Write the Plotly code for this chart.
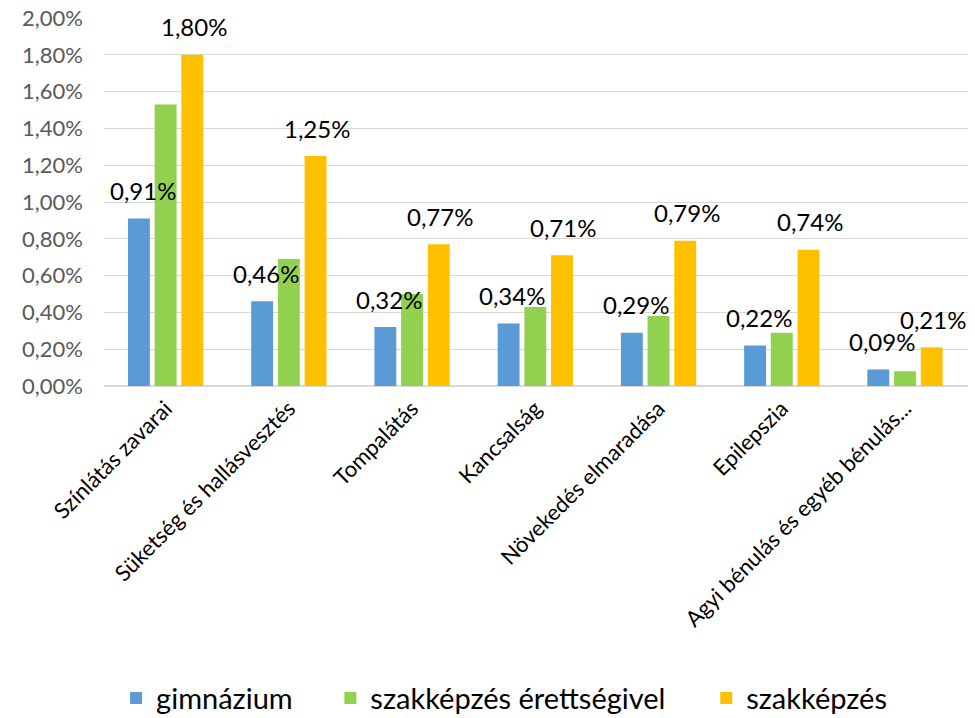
import plotly.graph_objects as go

categories = [
    "Színlátás zavarai",
    "Süketség és hallásvesztés",
    "Tompalátás",
    "Kancsalság",
    "Növekedés elmaradása",
    "Epilepszia",
    "Agyi bénulás és egyéb bénulás...",
]
series_names = ["gimnázium", "szakképzés érettségivel", "szakképzés"]
gimnazium = [0.0091, 0.0046, 0.0032, 0.0034, 0.0029, 0.0022, 0.0009]
szak_erettsegi = [0.0153, 0.0069, 0.0050, 0.0043, 0.0038, 0.0029, 0.0008]
szakkepzes = [0.0180, 0.0125, 0.0077, 0.0071, 0.0079, 0.0074, 0.0021]
colors = ["#5b9bd5", "#92d050", "#ffc000"]

font_family = "Lato, 'Open Sans', sans-serif"

# one legend per series so the entries can be spaced like the original
legend_ids = ["legend", "legend2", "legend3"]
legend_x = [0.014, 0.262, 0.697]

fig = go.Figure()
for name, vals, col, lg in zip(series_names, [gimnazium, szak_erettsegi, szakkepzes],
                               colors, legend_ids):
    fig.add_trace(go.Bar(x=categories, y=vals, name=name, marker_color=col,
                         marker_line_width=0, legend=lg, showlegend=True))

# data labels only for gimnázium and szakképzés, placed above the bars
annotations = []
for vals, shift in [(gimnazium, -23), (szakkepzes, 28)]:
    for c, v in zip(categories, vals):
        annotations.append(dict(
            x=c, y=v, xref="x", yref="y",
            text=f"{v * 100:.2f}%".replace(".", ","),
            showarrow=False, xshift=shift, yshift=28,
            font=dict(size=24, color="#000000", family=font_family),
        ))

legend_style = dict(orientation="h", xanchor="left", y=-0.848, yanchor="middle",
                    font=dict(size=29, color="#000000"), itemwidth=30,
                    bgcolor="rgba(0,0,0,0)")

fig.update_layout(
    width=975, height=718,
    margin=dict(l=104, r=7, t=18, b=332, autoexpand=False),
    paper_bgcolor="white", plot_bgcolor="white",
    separators=", ",
    showlegend=True,
    barmode="group", bargap=0.35, bargroupgap=0.18,
    font=dict(family=font_family, color="#595959"),
    annotations=annotations,
    legend=dict(x=legend_x[0], **legend_style),
    legend2=dict(x=legend_x[1], **legend_style),
    legend3=dict(x=legend_x[2], **legend_style),
)
fig.update_yaxes(range=[0, 0.0200001], dtick=0.002, tickformat=".2%",
                 gridcolor="#d9d9d9", gridwidth=1, zeroline=True,
                 zerolinecolor="#d9d9d9", showline=False, automargin=False,
                 ticklabelstandoff=20, ticklabeloverflow="allow",
                 tickfont=dict(size=22, color="#595959"), ticks="", ticklen=0)
fig.update_xaxes(tickangle=-45, tickfont=dict(size=22, color="#000000"),
                 showline=True, linecolor="#d9d9d9", ticks="", automargin=False)

# drop the default page margin so the figure fills the window
fig.write_html("out.html", config={"displayModeBar": False},
               post_script="document.body.style.margin='0';")
